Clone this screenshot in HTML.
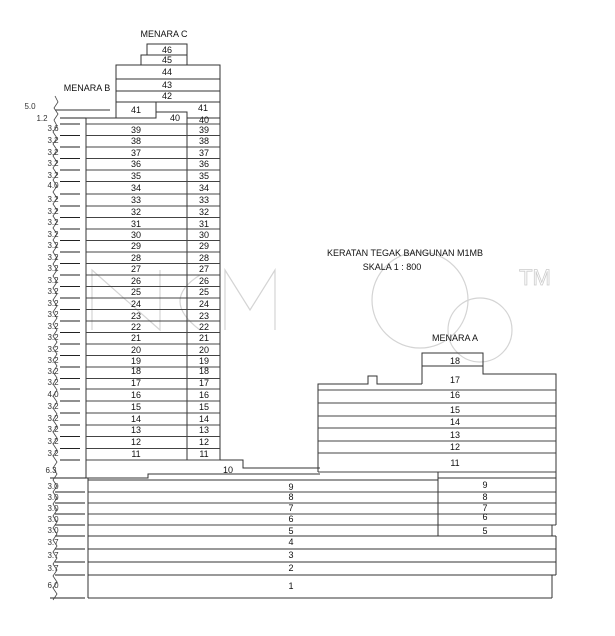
<!DOCTYPE html>
<html><head><meta charset="utf-8"><style>
html,body{margin:0;padding:0;background:#fff;width:615px;height:636px;overflow:hidden}
svg{display:block}
text{font-family:"Liberation Sans",Arial,sans-serif;font-size:9px;fill:#111;text-anchor:middle}
.d{font-size:8px;fill:#333}
</style></head><body>
<svg width="615" height="636" viewBox="0 0 615 636" xmlns="http://www.w3.org/2000/svg">
<g fill="none" stroke="#d4d4d4" stroke-width="1.2">
<path d="M92 330 L92 270 L160 330 L160 270"/>
<path d="M200 275 Q160 300 200 330"/>
<path d="M225 330 L225 270 L250 310 L275 270 L275 330"/>
<circle cx="420" cy="300" r="48"/>
<circle cx="480" cy="330" r="32"/>
<text x="535" y="285" style="font-size:22px;fill:none;stroke:#ccc;stroke-width:0.8">TM</text>
</g>
<g fill="none" stroke="#333" stroke-width="1">
<rect x="147" y="44" width="40" height="11"/>
<rect x="141" y="55" width="46" height="10"/>
<rect x="116" y="65" width="104" height="37"/>
<line x1="116" y1="79" x2="220" y2="79"/>
<line x1="116" y1="91" x2="220" y2="91"/>
<rect x="116" y="102" width="40" height="16"/>
<path d="M156 112 L187 112 L187 124"/>
<line x1="187" y1="102" x2="220" y2="102"/>
<path d="M220 102 L220 460"/>
<line x1="187" y1="112" x2="187" y2="460"/>
<line x1="55" y1="110" x2="110" y2="110"/>
<path d="M86 118 L116 118"/>
<line x1="86" y1="118" x2="86" y2="478"/>
<line x1="187" y1="118" x2="220" y2="118"/>
<g stroke="#444">
<line x1="86" y1="124" x2="220" y2="124"/><line x1="86" y1="135.5" x2="220" y2="135.5"/>
<line x1="86" y1="147" x2="220" y2="147"/><line x1="86" y1="158.5" x2="220" y2="158.5"/>
<line x1="86" y1="170" x2="220" y2="170"/><line x1="86" y1="181.5" x2="220" y2="181.5"/>
<line x1="86" y1="194" x2="220" y2="194"/><line x1="86" y1="206" x2="220" y2="206"/>
<line x1="86" y1="217.5" x2="220" y2="217.5"/><line x1="86" y1="229" x2="220" y2="229"/>
<line x1="86" y1="240.5" x2="220" y2="240.5"/><line x1="86" y1="252" x2="220" y2="252"/>
<line x1="86" y1="263.5" x2="220" y2="263.5"/><line x1="86" y1="275" x2="220" y2="275"/>
<line x1="86" y1="286.5" x2="220" y2="286.5"/><line x1="86" y1="298" x2="220" y2="298"/>
<line x1="86" y1="309.5" x2="220" y2="309.5"/><line x1="86" y1="321" x2="220" y2="321"/>
<line x1="86" y1="332.5" x2="220" y2="332.5"/><line x1="86" y1="344" x2="220" y2="344"/>
<line x1="86" y1="355.5" x2="220" y2="355.5"/><line x1="86" y1="367" x2="220" y2="367"/>
<line x1="86" y1="378.5" x2="220" y2="378.5"/><line x1="86" y1="389" x2="220" y2="389"/>
<line x1="86" y1="401" x2="220" y2="401"/><line x1="86" y1="413" x2="220" y2="413"/>
<line x1="86" y1="425" x2="220" y2="425"/><line x1="86" y1="436.5" x2="220" y2="436.5"/>
<line x1="86" y1="448.5" x2="220" y2="448.5"/><line x1="86" y1="460" x2="220" y2="460"/>
</g>
<path d="M220 460 L243 460 L243 468 L320 468"/>
<path d="M86 478 L148 478 L148 474 L320 474"/>
<path d="M422 384 L422 353 L483 353 L483 374 L556 374 L556 478"/>
<line x1="422" y1="366" x2="483" y2="366"/>
<path d="M318 472 L318 384 L368 384 L368 376 L377 376 L377 384 L422 384"/>
<g stroke="#444">
<line x1="318" y1="390" x2="556" y2="390"/><line x1="318" y1="403" x2="556" y2="403"/>
<line x1="318" y1="416" x2="556" y2="416"/><line x1="318" y1="428" x2="556" y2="428"/>
<line x1="318" y1="441" x2="556" y2="441"/><line x1="318" y1="453" x2="556" y2="453"/>
<line x1="318" y1="472" x2="556" y2="472"/>
</g>
<line x1="88" y1="478" x2="88" y2="598"/>
<line x1="438" y1="472" x2="438" y2="536"/>
<line x1="88" y1="480" x2="438" y2="480"/>
<line x1="438" y1="478" x2="556" y2="478"/>
<g stroke="#444">
<line x1="88" y1="492" x2="556" y2="492"/><line x1="88" y1="503" x2="556" y2="503"/>
<line x1="88" y1="514" x2="556" y2="514"/><line x1="88" y1="525" x2="556" y2="525"/>
</g>
<line x1="556" y1="478" x2="556" y2="525"/>
<line x1="552" y1="525" x2="552" y2="536"/>
<line x1="88" y1="536" x2="556" y2="536"/>
<line x1="556" y1="536" x2="556" y2="575"/>
<line x1="88" y1="549" x2="556" y2="549"/><line x1="88" y1="562" x2="556" y2="562"/>
<line x1="88" y1="575" x2="556" y2="575"/>
<line x1="552" y1="575" x2="552" y2="598"/>
<line x1="88" y1="598" x2="552" y2="598"/>
<g stroke="#222">
<line x1="60" y1="118" x2="86" y2="118"/><line x1="60" y1="124" x2="80" y2="124"/>
<line x1="60" y1="135.5" x2="80" y2="135.5"/><line x1="60" y1="147" x2="80" y2="147"/>
<line x1="60" y1="158.5" x2="80" y2="158.5"/><line x1="60" y1="170" x2="80" y2="170"/>
<line x1="60" y1="181.5" x2="80" y2="181.5"/><line x1="60" y1="194" x2="80" y2="194"/>
<line x1="60" y1="206" x2="80" y2="206"/><line x1="60" y1="217.5" x2="80" y2="217.5"/>
<line x1="60" y1="229" x2="80" y2="229"/><line x1="60" y1="240.5" x2="80" y2="240.5"/>
<line x1="60" y1="252" x2="80" y2="252"/><line x1="60" y1="263.5" x2="80" y2="263.5"/>
<line x1="60" y1="275" x2="80" y2="275"/><line x1="60" y1="286.5" x2="80" y2="286.5"/>
<line x1="60" y1="298" x2="80" y2="298"/><line x1="60" y1="309.5" x2="80" y2="309.5"/>
<line x1="60" y1="321" x2="80" y2="321"/><line x1="60" y1="332.5" x2="80" y2="332.5"/>
<line x1="60" y1="344" x2="80" y2="344"/><line x1="60" y1="355.5" x2="80" y2="355.5"/>
<line x1="60" y1="367" x2="80" y2="367"/><line x1="60" y1="378.5" x2="80" y2="378.5"/>
<line x1="60" y1="389" x2="80" y2="389"/><line x1="60" y1="401" x2="80" y2="401"/>
<line x1="60" y1="413" x2="80" y2="413"/><line x1="60" y1="425" x2="80" y2="425"/>
<line x1="60" y1="436.5" x2="80" y2="436.5"/><line x1="60" y1="448.5" x2="80" y2="448.5"/>
<line x1="60" y1="460" x2="80" y2="460"/><line x1="50" y1="478" x2="86" y2="478"/>
<line x1="55" y1="492" x2="85" y2="492"/><line x1="55" y1="503" x2="85" y2="503"/>
<line x1="55" y1="514" x2="85" y2="514"/><line x1="55" y1="525" x2="85" y2="525"/>
<line x1="55" y1="536" x2="85" y2="536"/><line x1="55" y1="549" x2="85" y2="549"/>
<line x1="55" y1="562" x2="85" y2="562"/><line x1="55" y1="575" x2="85" y2="575"/>
<line x1="50" y1="598" x2="85" y2="598"/>
</g>
<path d="M55 96 L58 102 L54 108 L58 114 L54 120 L57 126 L53 132 L57 138 L53 144 L57 150 L53 156 L57 162 L53 168 L57 174 L53 180 L57 186 L53 192 L57 198 L53 204 L57 210 L53 216 L57 222 L53 228 L57 234 L53 240 L57 246 L53 252 L57 258 L53 264 L57 270 L53 276 L57 282 L53 288 L57 294 L53 300 L57 306 L53 312 L57 318 L53 324 L57 330 L53 336 L57 342 L53 348 L57 354 L53 360 L57 366 L53 372 L57 378 L53 384 L57 390 L53 396 L57 402 L53 408 L57 414 L53 420 L57 426 L53 432 L57 438 L53 444 L57 450 L53 456 L57 462 L53 468 L57 474 L53 480 L57 486 L53 492 L57 498 L53 504 L57 510 L53 516 L57 522 L53 528 L57 534 L53 540 L57 546 L53 552 L57 558 L53 564 L57 570 L53 576 L57 582 L53 588 L57 594 L53 600" stroke="#444" stroke-width="0.8"/>
</g>
<text x="164" y="37">MENARA C</text>
<text x="87" y="91">MENARA B</text>
<text x="455" y="341">MENARA A</text>
<text x="405" y="256">KERATAN TEGAK BANGUNAN M1MB</text>
<text x="392" y="270">SKALA 1 : 800</text>
<text x="167" y="53">46</text><text x="167" y="63">45</text>
<text x="167" y="75">44</text><text x="167" y="88">43</text><text x="167" y="99">42</text>
<text x="136" y="113">41</text><text x="203" y="111">41</text>
<text x="175" y="121">40</text><text x="204" y="123">40</text>
<g>
<text x="136" y="133">39</text><text x="204" y="133">39</text>
<text x="136" y="144">38</text><text x="204" y="144">38</text>
<text x="136" y="156">37</text><text x="204" y="156">37</text>
<text x="136" y="167">36</text><text x="204" y="167">36</text>
<text x="136" y="179">35</text><text x="204" y="179">35</text>
<text x="136" y="191">34</text><text x="204" y="191">34</text>
<text x="136" y="203">33</text><text x="204" y="203">33</text>
<text x="136" y="215">32</text><text x="204" y="215">32</text>
<text x="136" y="227">31</text><text x="204" y="227">31</text>
<text x="136" y="238">30</text><text x="204" y="238">30</text>
<text x="136" y="249">29</text><text x="204" y="249">29</text>
<text x="136" y="261">28</text><text x="204" y="261">28</text>
<text x="136" y="272">27</text><text x="204" y="272">27</text>
<text x="136" y="284">26</text><text x="204" y="284">26</text>
<text x="136" y="295">25</text><text x="204" y="295">25</text>
<text x="136" y="307">24</text><text x="204" y="307">24</text>
<text x="136" y="319">23</text><text x="204" y="319">23</text>
<text x="136" y="330">22</text><text x="204" y="330">22</text>
<text x="136" y="341">21</text><text x="204" y="341">21</text>
<text x="136" y="353">20</text><text x="204" y="353">20</text>
<text x="136" y="364">19</text><text x="204" y="364">19</text>
<text x="136" y="374">18</text><text x="204" y="374">18</text>
<text x="136" y="386">17</text><text x="204" y="386">17</text>
<text x="136" y="398">16</text><text x="204" y="398">16</text>
<text x="136" y="410">15</text><text x="204" y="410">15</text>
<text x="136" y="422">14</text><text x="204" y="422">14</text>
<text x="136" y="433">13</text><text x="204" y="433">13</text>
<text x="136" y="445">12</text><text x="204" y="445">12</text>
<text x="136" y="457">11</text><text x="204" y="457">11</text>
</g>
<text x="228" y="473">10</text>
<text x="455" y="364">18</text><text x="455" y="383">17</text>
<text x="455" y="398">16</text><text x="455" y="413">15</text>
<text x="455" y="425">14</text><text x="455" y="438">13</text>
<text x="455" y="450">12</text><text x="455" y="466">11</text>
<text x="291" y="490">9</text><text x="291" y="500">8</text><text x="291" y="511">7</text>
<text x="291" y="522">6</text><text x="291" y="534">5</text><text x="291" y="545">4</text>
<text x="291" y="558">3</text><text x="291" y="571">2</text><text x="291" y="589">1</text>
<text x="485" y="488">9</text><text x="485" y="500">8</text><text x="485" y="511">7</text>
<text x="485" y="520">6</text><text x="485" y="534">5</text>
<g>
<text class="d" x="30" y="109">5.0</text><text class="d" x="42" y="121">1.2</text>
<text class="d" x="53" y="131">3.6</text>
<text class="d" x="53" y="143">3.2</text><text class="d" x="53" y="155">3.2</text>
<text class="d" x="53" y="166">3.2</text><text class="d" x="53" y="178">3.2</text>
<text class="d" x="53" y="188">4.0</text>
<text class="d" x="53" y="202">3.2</text><text class="d" x="53" y="214">3.2</text>
<text class="d" x="53" y="225">3.2</text><text class="d" x="53" y="237">3.2</text>
<text class="d" x="53" y="248">3.2</text><text class="d" x="53" y="260">3.2</text>
<text class="d" x="53" y="271">3.2</text><text class="d" x="53" y="283">3.2</text>
<text class="d" x="53" y="294">3.2</text><text class="d" x="53" y="306">3.2</text>
<text class="d" x="53" y="317">3.2</text><text class="d" x="53" y="329">3.2</text>
<text class="d" x="53" y="340">3.2</text><text class="d" x="53" y="352">3.2</text>
<text class="d" x="53" y="363">3.2</text><text class="d" x="53" y="374">3.2</text>
<text class="d" x="53" y="385">3.2</text>
<text class="d" x="53" y="397">4.0</text>
<text class="d" x="53" y="409">3.2</text><text class="d" x="53" y="421">3.2</text>
<text class="d" x="53" y="432">3.2</text><text class="d" x="53" y="444">3.2</text>
<text class="d" x="53" y="456">3.2</text>
<text class="d" x="51" y="473">6.3</text>
<text class="d" x="53" y="489">3.0</text><text class="d" x="53" y="500">3.0</text>
<text class="d" x="53" y="511">3.0</text><text class="d" x="53" y="522">3.0</text>
<text class="d" x="53" y="533">3.0</text><text class="d" x="53" y="545">3.7</text>
<text class="d" x="53" y="558">3.7</text><text class="d" x="53" y="571">3.7</text>
<text class="d" x="53" y="588">6.0</text>
</g>
</svg>
</body></html>
